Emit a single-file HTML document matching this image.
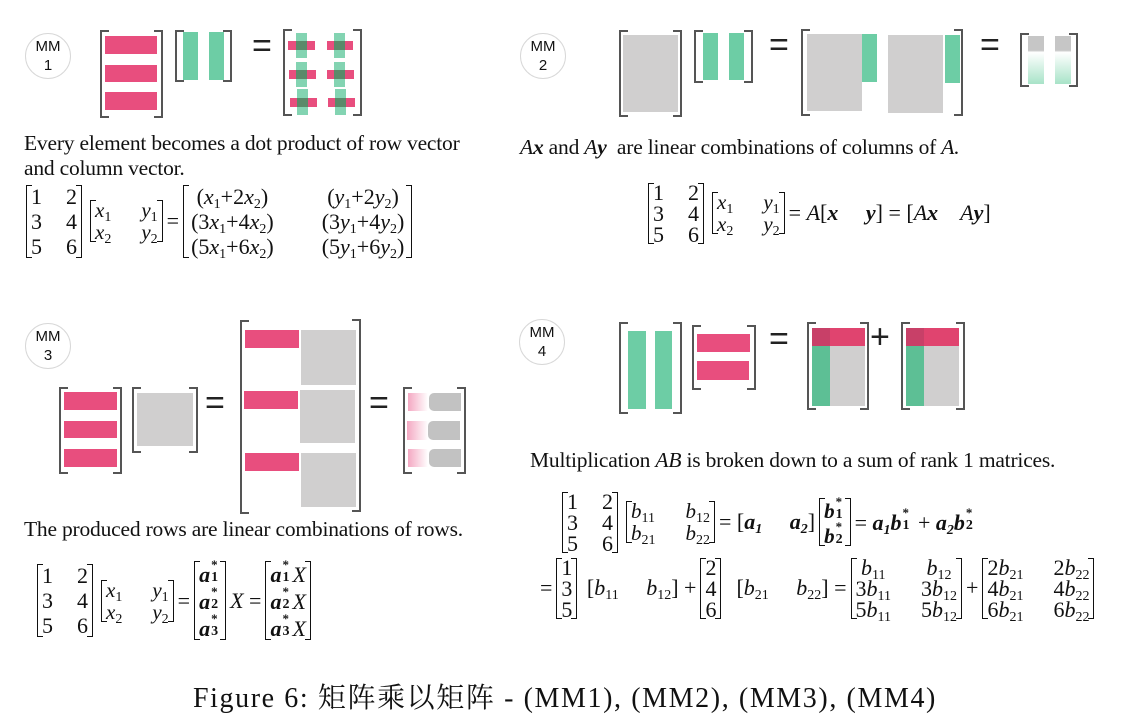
<!DOCTYPE html>
<html><head><meta charset="utf-8">
<style>
*{margin:0;padding:0;box-sizing:border-box}
body{width:1129px;height:721px;background:#fff;position:relative;overflow:hidden;font-family:"Liberation Serif",serif;color:#111}
.a{position:absolute}
.c{position:absolute;width:46px;height:46px;border:1.5px solid #d8d8d8;border-radius:50%;font-family:"Liberation Sans",sans-serif;font-size:15px;text-align:center;line-height:19px;padding-top:3px;color:#111}
.bl,.brr{position:absolute;width:9px;border:2px solid #555}
.bl{border-right:none}.brr{border-left:none}
.pk{position:absolute;background:#e84e7e}
.gr{position:absolute;background:#6dcda5}
.gy{position:absolute;background:#d0cfcf}
.eqs{position:absolute;font-family:"Liberation Sans",sans-serif;font-size:34px;line-height:30px;color:#222}
.txt{position:absolute;font-size:21.5px;white-space:nowrap;letter-spacing:-0.2px}
.eq{position:absolute;display:flex;align-items:center;font-size:22px;white-space:nowrap}
.mat{position:relative;display:inline-grid;padding:0 5px;line-height:25px;column-gap:24px;margin:0 4px}
.mat::before,.mat::after{content:"";position:absolute;top:1px;bottom:1px;width:5px;border:1.6px solid #111}
.mat::before{left:0;border-right:none}
.mat::after{right:0;border-left:none}
.s{line-height:22px;font-size:21px;column-gap:30px}
.c2{grid-template-columns:auto auto}
.c1{grid-template-columns:auto}
i{font-style:italic}
b{font-style:italic;font-weight:bold}
sub{font-size:14px;vertical-align:-4px;line-height:0}
.ss{display:inline-block;position:relative;width:11px;height:1em;vertical-align:baseline}
.ss .t{position:absolute;left:1px;top:-2px;font-size:13px;line-height:13px;font-weight:bold}
.ss .b{position:absolute;left:1px;top:11px;font-size:14px;line-height:14px;font-weight:bold}
</style></head><body>

<!-- MM1 -->
<div class="c" style="left:25px;top:33px">MM<br>1</div>
<div class="bl" style="left:100px;top:30px;height:88px"></div><div class="brr" style="left:154px;top:30px;height:88px"></div>
<div class="pk" style="left:105px;top:36px;width:52px;height:18px"></div>
<div class="pk" style="left:105px;top:65px;width:52px;height:17px"></div>
<div class="pk" style="left:105px;top:92px;width:52px;height:18px"></div>
<div class="bl" style="left:175px;top:30px;height:52px"></div><div class="brr" style="left:223px;top:30px;height:52px"></div>
<div class="gr" style="left:183px;top:32px;width:15px;height:48px"></div>
<div class="gr" style="left:209px;top:32px;width:15px;height:48px"></div>
<div class="eqs" style="left:252px;top:31px">=</div>
<div class="bl" style="left:283px;top:29px;height:87px"></div><div class="brr" style="left:353px;top:29px;height:87px"></div>
<div class="pk" style="left:288px;top:41px;width:27px;height:9px"></div><div class="pk" style="left:327px;top:41px;width:26px;height:9px"></div>
<div class="pk" style="left:289px;top:70px;width:27px;height:9px"></div><div class="pk" style="left:327px;top:70px;width:27px;height:9px"></div>
<div class="pk" style="left:290px;top:98px;width:27px;height:9px"></div><div class="pk" style="left:328px;top:98px;width:27px;height:9px"></div>
<div class="gr" style="left:296px;top:33px;width:11px;height:25px;opacity:.85"></div><div class="gr" style="left:334px;top:33px;width:11px;height:25px;opacity:.85"></div>
<div class="gr" style="left:296px;top:62px;width:11px;height:25px;opacity:.85"></div><div class="gr" style="left:334px;top:62px;width:11px;height:25px;opacity:.85"></div>
<div class="gr" style="left:297px;top:89px;width:11px;height:26px;opacity:.85"></div><div class="gr" style="left:335px;top:89px;width:11px;height:26px;opacity:.85"></div>
<div class="a" style="left:296px;top:41px;width:11px;height:9px;background:#5a8a6a"></div><div class="a" style="left:334px;top:41px;width:11px;height:9px;background:#5a8a6a"></div>
<div class="a" style="left:296px;top:70px;width:11px;height:9px;background:#5a8a6a"></div><div class="a" style="left:334px;top:70px;width:11px;height:9px;background:#5a8a6a"></div>
<div class="a" style="left:297px;top:98px;width:11px;height:9px;background:#5a8a6a"></div><div class="a" style="left:335px;top:98px;width:11px;height:9px;background:#5a8a6a"></div>

<div class="txt" style="left:24px;top:131px">Every element becomes a dot product of row vector</div>
<div class="txt" style="left:24px;top:156px">and column vector.</div>

<div class="eq" style="left:22px;top:183px;height:76px">
<span class="mat c2"><span>1</span><span>2</span><span>3</span><span>4</span><span>5</span><span>6</span></span>
<span class="mat c2 s"><span><i>x</i><sub>1</sub></span><span><i>y</i><sub>1</sub></span><span><i>x</i><sub>2</sub></span><span><i>y</i><sub>2</sub></span></span>
<span>=</span>
<span class="mat c2" style="column-gap:48px;padding:0 8px;text-align:center"><span>(<i>x</i><sub>1</sub>+2<i>x</i><sub>2</sub>)</span><span>(<i>y</i><sub>1</sub>+2<i>y</i><sub>2</sub>)</span><span>(3<i>x</i><sub>1</sub>+4<i>x</i><sub>2</sub>)</span><span>(3<i>y</i><sub>1</sub>+4<i>y</i><sub>2</sub>)</span><span>(5<i>x</i><sub>1</sub>+6<i>x</i><sub>2</sub>)</span><span>(5<i>y</i><sub>1</sub>+6<i>y</i><sub>2</sub>)</span></span>
</div>

<!-- MM2 -->
<div class="c" style="left:520px;top:33px">MM<br>2</div>
<div class="bl" style="left:619px;top:30px;height:87px"></div><div class="brr" style="left:673px;top:30px;height:87px"></div>
<div class="gy" style="left:623px;top:35px;width:55px;height:77px"></div>
<div class="bl" style="left:694px;top:30px;height:53px"></div><div class="brr" style="left:744px;top:30px;height:53px"></div>
<div class="gr" style="left:703px;top:33px;width:15px;height:47px"></div>
<div class="gr" style="left:729px;top:33px;width:15px;height:47px"></div>
<div class="eqs" style="left:769px;top:30px">=</div>
<div class="bl" style="left:801px;top:29px;height:87px"></div><div class="brr" style="left:954px;top:29px;height:87px"></div>
<div class="gy" style="left:807px;top:34px;width:55px;height:77px"></div>
<div class="gr" style="left:862px;top:34px;width:15px;height:48px"></div>
<div class="gy" style="left:888px;top:35px;width:55px;height:78px"></div>
<div class="gr" style="left:945px;top:35px;width:15px;height:48px"></div>
<div class="eqs" style="left:980px;top:30px">=</div>
<div class="bl" style="left:1020px;top:33px;height:54px"></div><div class="brr" style="left:1069px;top:33px;height:54px"></div>
<div class="a" style="left:1028px;top:36px;width:16px;height:48px;background:linear-gradient(#c6c6c6 0,#c6c6c6 30%,#fff 34%,#a8e3c8 100%)"></div>
<div class="a" style="left:1055px;top:36px;width:16px;height:48px;background:linear-gradient(#c6c6c6 0,#c6c6c6 30%,#fff 34%,#a8e3c8 100%)"></div>

<div class="txt" style="left:520px;top:135px"><i>A</i><b>x</b> and <i>A</i><b>y</b>&nbsp; are linear combinations of columns of <i>A.</i></div>

<div class="eq" style="left:644px;top:180px;height:66px">
<span class="mat c2" style="line-height:21px"><span>1</span><span>2</span><span>3</span><span>4</span><span>5</span><span>6</span></span>
<span class="mat c2 s"><span><i>x</i><sub>1</sub></span><span><i>y</i><sub>1</sub></span><span><i>x</i><sub>2</sub></span><span><i>y</i><sub>2</sub></span></span>
<span>= <i>A</i>[<b>x</b> &nbsp;&nbsp;&nbsp; <b>y</b>] = [<i>A</i><b>x</b> &nbsp;&nbsp;&nbsp;<i>A</i><b>y</b>]</span>
</div>

<!-- MM3 -->
<div class="c" style="left:25px;top:323px">MM<br>3</div>
<div class="bl" style="left:59px;top:387px;height:87px"></div><div class="brr" style="left:113px;top:387px;height:87px"></div>
<div class="pk" style="left:64px;top:392px;width:53px;height:18px"></div>
<div class="pk" style="left:64px;top:421px;width:53px;height:17px"></div>
<div class="pk" style="left:64px;top:449px;width:53px;height:18px"></div>
<div class="bl" style="left:132px;top:387px;height:66px"></div><div class="brr" style="left:189px;top:387px;height:66px"></div>
<div class="gy" style="left:137px;top:393px;width:56px;height:53px"></div>
<div class="eqs" style="left:205px;top:388px">=</div>
<div class="bl" style="left:240px;top:320px;height:194px"></div><div class="brr" style="left:352px;top:319px;height:193px"></div>
<div class="pk" style="left:245px;top:330px;width:54px;height:18px"></div>
<div class="pk" style="left:244px;top:391px;width:54px;height:18px"></div>
<div class="pk" style="left:245px;top:453px;width:54px;height:18px"></div>
<div class="gy" style="left:301px;top:330px;width:55px;height:55px"></div>
<div class="gy" style="left:300px;top:390px;width:55px;height:53px"></div>
<div class="gy" style="left:301px;top:453px;width:55px;height:54px"></div>
<div class="eqs" style="left:369px;top:388px">=</div>
<div class="bl" style="left:403px;top:387px;height:87px"></div><div class="brr" style="left:457px;top:387px;height:87px"></div>
<div class="a" style="left:408px;top:393px;width:20px;height:18px;background:linear-gradient(90deg,#f4a8c2,#fff)"></div><div class="a" style="left:429px;top:393px;width:32px;height:18px;background:#c2c2c2;border-radius:5px 0 0 5px"></div>
<div class="a" style="left:407px;top:421px;width:21px;height:19px;background:linear-gradient(90deg,#f4a8c2,#fff)"></div><div class="a" style="left:428px;top:421px;width:32px;height:19px;background:#c2c2c2;border-radius:5px 0 0 5px"></div>
<div class="a" style="left:408px;top:449px;width:20px;height:18px;background:linear-gradient(90deg,#f4a8c2,#fff)"></div><div class="a" style="left:429px;top:449px;width:32px;height:18px;background:#c2c2c2;border-radius:5px 0 0 5px"></div>

<div class="txt" style="left:24px;top:517px">The produced rows are linear combinations of rows.</div>

<div class="eq" style="left:33px;top:563px;height:75px">
<span class="mat c2"><span>1</span><span>2</span><span>3</span><span>4</span><span>5</span><span>6</span></span>
<span class="mat c2 s"><span><i>x</i><sub>1</sub></span><span><i>y</i><sub>1</sub></span><span><i>x</i><sub>2</sub></span><span><i>y</i><sub>2</sub></span></span>
<span>=</span>
<span class="mat c1"><span><b>a</b><span class="ss"><span class="t">*</span><span class="b">1</span></span></span><span><b>a</b><span class="ss"><span class="t">*</span><span class="b">2</span></span></span><span><b>a</b><span class="ss"><span class="t">*</span><span class="b">3</span></span></span></span>
<span><i>X</i> =</span>
<span class="mat c1"><span><b>a</b><span class="ss"><span class="t">*</span><span class="b">1</span></span><i>X</i></span><span><b>a</b><span class="ss"><span class="t">*</span><span class="b">2</span></span><i>X</i></span><span><b>a</b><span class="ss"><span class="t">*</span><span class="b">3</span></span><i>X</i></span></span>
</div>

<!-- MM4 -->
<div class="c" style="left:519px;top:319px">MM<br>4</div>
<div class="bl" style="left:619px;top:322px;height:92px"></div><div class="brr" style="left:673px;top:322px;height:92px"></div>
<div class="gr" style="left:628px;top:331px;width:18px;height:78px"></div>
<div class="gr" style="left:655px;top:331px;width:17px;height:78px"></div>
<div class="bl" style="left:692px;top:325px;height:65px"></div><div class="brr" style="left:747px;top:325px;height:65px"></div>
<div class="pk" style="left:697px;top:334px;width:53px;height:18px"></div>
<div class="pk" style="left:697px;top:361px;width:52px;height:19px"></div>
<div class="eqs" style="left:769px;top:324px">=</div>
<div class="bl" style="left:807px;top:322px;height:88px"></div><div class="brr" style="left:860px;top:322px;height:88px"></div>
<div class="pk" style="left:812px;top:328px;width:53px;height:18px;background:#e0446f"></div>
<div class="a" style="left:812px;top:328px;width:18px;height:18px;background:#c84068"></div>
<div class="gr" style="left:812px;top:346px;width:18px;height:60px;background:#5dbf95"></div>
<div class="gy" style="left:830px;top:346px;width:35px;height:60px"></div>
<div class="eqs" style="left:870px;top:322px">+</div>
<div class="bl" style="left:901px;top:322px;height:88px"></div><div class="brr" style="left:956px;top:322px;height:88px"></div>
<div class="pk" style="left:906px;top:328px;width:53px;height:18px;background:#e0446f"></div>
<div class="a" style="left:906px;top:328px;width:18px;height:18px;background:#c84068"></div>
<div class="gr" style="left:906px;top:346px;width:18px;height:60px;background:#5dbf95"></div>
<div class="gy" style="left:924px;top:346px;width:35px;height:60px"></div>

<div class="txt" style="left:530px;top:448px">Multiplication <i>AB</i> is broken down to a sum of rank 1 matrices.</div>

<div class="eq" style="left:558px;top:490px;height:64px">
<span class="mat c2" style="line-height:21px"><span>1</span><span>2</span><span>3</span><span>4</span><span>5</span><span>6</span></span>
<span class="mat c2 s"><span><i>b</i><sub>11</sub></span><span><i>b</i><sub>12</sub></span><span><i>b</i><sub>21</sub></span><span><i>b</i><sub>22</sub></span></span>
<span>= [<b>a</b><sub><b>1</b></sub> &nbsp;&nbsp;&nbsp; <b>a</b><sub><b>2</b></sub>]</span>
<span class="mat c1 s"><span><b>b</b><span class="ss"><span class="t">*</span><span class="b">1</span></span></span><span><b>b</b><span class="ss"><span class="t">*</span><span class="b">2</span></span></span></span>
<span>= <b>a</b><sub><b>1</b></sub><b>b</b><span class="ss"><span class="t">*</span><span class="b">1</span></span> + <b>a</b><sub><b>2</b></sub><b>b</b><span class="ss"><span class="t">*</span><span class="b">2</span></span></span>
</div>

<div class="eq" style="left:540px;top:555px;height:66px">
<span>=</span>
<span class="mat c1" style="line-height:21px"><span>1</span><span>3</span><span>5</span></span>
<span>&nbsp;[<i>b</i><sub>11</sub> &nbsp;&nbsp;&nbsp; <i>b</i><sub>12</sub>] +</span>
<span class="mat c1" style="line-height:21px"><span>2</span><span>4</span><span>6</span></span>
<span>&nbsp;&nbsp;[<i>b</i><sub>21</sub> &nbsp;&nbsp;&nbsp; <i>b</i><sub>22</sub>] =</span>
<span class="mat c2" style="line-height:21px;column-gap:30px;text-align:center"><span><i>b</i><sub>11</sub></span><span><i>b</i><sub>12</sub></span><span>3<i>b</i><sub>11</sub></span><span>3<i>b</i><sub>12</sub></span><span>5<i>b</i><sub>11</sub></span><span>5<i>b</i><sub>12</sub></span></span>
<span>+</span>
<span class="mat c2" style="line-height:21px;column-gap:30px"><span>2<i>b</i><sub>21</sub></span><span>2<i>b</i><sub>22</sub></span><span>4<i>b</i><sub>21</sub></span><span>4<i>b</i><sub>22</sub></span><span>6<i>b</i><sub>21</sub></span><span>6<i>b</i><sub>22</sub></span></span>
</div>

<div class="a" style="left:193px;top:676px;font-size:28px;letter-spacing:1.6px;white-space:nowrap;font-family:'Liberation Serif','Noto Serif CJK SC',serif">Figure 6: 矩阵乘以矩阵 - (MM1), (MM2), (MM3), (MM4)</div>
</body></html>
